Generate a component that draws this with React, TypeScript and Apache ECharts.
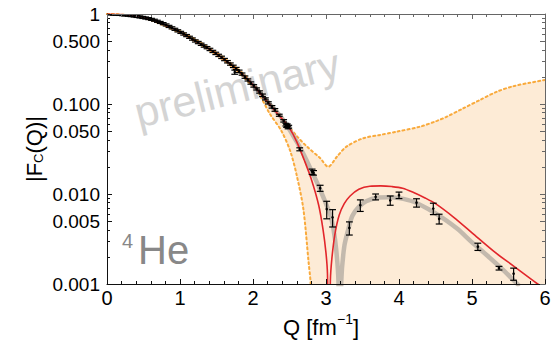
import React, { useEffect, useRef } from 'react';
import * as echarts from 'echarts';

const FONT = '"Liberation Sans", Arial, Helvetica, sans-serif';

// Axis ticks
const yMajorValues = [0.001, 0.005, 0.01, 0.05, 0.1, 0.5, 1];
const yMajorLabels = ['0.001', '0.005', '0.010', '0.050', '0.100', '0.500', '1'];
const yMinorValues = [
  0.002, 0.003, 0.004, 0.006, 0.007, 0.008, 0.009,
  0.02, 0.03, 0.04, 0.06, 0.07, 0.08, 0.09,
  0.2, 0.3, 0.4, 0.6, 0.7, 0.8, 0.9,
];

// Theory (red)
const redQ = [0, 0.2, 0.4, 0.6, 0.8, 1.0, 1.2, 1.4, 1.6, 1.8, 2.0, 2.2, 2.4, 2.5, 2.6, 2.7, 2.8, 2.9, 2.96, 3.0, 3.02, 3.04, 3.06, 3.08, 3.12, 3.18, 3.25, 3.33, 3.45, 3.6, 3.75, 3.9, 4.05, 4.2, 4.35, 4.5, 4.75, 5.0, 5.3, 5.57, 5.9, 6.0];
const redF = [1, 0.985, 0.945, 0.877, 0.752, 0.63, 0.506, 0.408, 0.316, 0.234, 0.163, 0.105, 0.068, 0.054, 0.038, 0.024, 0.0145, 0.0075, 0.004, 0.0022, 0.0013, 0.0001, 0.0011, 0.0019, 0.0035, 0.0058, 0.0078, 0.0095, 0.0113, 0.0122, 0.0123, 0.0121, 0.0116, 0.0104, 0.0091, 0.0078, 0.0055, 0.0037, 0.0023, 0.00158, 0.001, 0.00088];

// Fit (gray band)
const grayQ = [2.0, 2.2, 2.4, 2.6, 2.7, 2.8, 2.9, 3.0, 3.06, 3.1, 3.14, 3.17, 3.19, 3.21, 3.25, 3.3, 3.36, 3.45, 3.55, 3.7, 3.85, 4.0, 4.2, 4.4, 4.6, 4.8, 5.0, 5.2, 5.4, 5.57, 5.65];
const grayF = [0.165, 0.106, 0.069, 0.038, 0.027, 0.0182, 0.0122, 0.0078, 0.0058, 0.0042, 0.0024, 0.0011, 0.0001, 0.0011, 0.0026, 0.0039, 0.0057, 0.0072, 0.0083, 0.0091, 0.0092, 0.009, 0.0082, 0.0068, 0.0054, 0.0041, 0.0029, 0.0021, 0.0015, 0.0011, 0.00095];

// Uncertainty band (orange dotted)
const upperQ = [0, 0.5, 1.0, 1.5, 1.8, 2.0, 2.2, 2.32, 2.46, 2.6, 2.74, 2.92, 3.03, 3.15, 3.28, 3.51, 3.74, 3.97, 4.29, 4.52, 4.65, 4.88, 5.11, 5.34, 5.57, 5.79, 6.0];
const upperF = [1, 0.925, 0.645, 0.372, 0.242, 0.17, 0.11, 0.086, 0.061, 0.044, 0.0336, 0.025, 0.0201, 0.026, 0.0336, 0.0416, 0.0453, 0.0493, 0.056, 0.065, 0.072, 0.0895, 0.111, 0.137, 0.158, 0.172, 0.185];
const lowerQ = [0, 0.5, 1.0, 1.5, 1.8, 2.0, 2.1, 2.23, 2.39, 2.51, 2.6, 2.69, 2.76, 2.79, 2.82];
const lowerF = [1, 0.905, 0.615, 0.35, 0.226, 0.155, 0.122, 0.078, 0.05, 0.03, 0.016, 0.0068, 0.0018, 0.001, 0.0002];

// Measured data: [Q, |F|, error]
const measured = [
  [0.05, 0.999, 0.025], [0.09, 0.997, 0.025], [0.13, 0.993, 0.025], [0.17, 0.989, 0.025],
  [0.21, 0.983, 0.025], [0.25, 0.976, 0.025], [0.29, 0.969, 0.025], [0.33, 0.96, 0.025],
  [0.37, 0.951, 0.025], [0.41, 0.94, 0.025], [0.45, 0.928, 0.024], [0.49, 0.916, 0.024],
  [0.53, 0.903, 0.024], [0.57, 0.889, 0.023], [0.61, 0.872, 0.023], [0.65, 0.853, 0.022],
  [0.69, 0.83, 0.022], [0.73, 0.806, 0.021], [0.77, 0.782, 0.021], [0.81, 0.756, 0.02],
  [0.85, 0.728, 0.02], [0.89, 0.702, 0.019], [0.93, 0.676, 0.018], [0.97, 0.65, 0.018],
  [1.01, 0.625, 0.017], [1.05, 0.6, 0.017], [1.09, 0.576, 0.016], [1.13, 0.551, 0.015],
  [1.17, 0.527, 0.015], [1.21, 0.502, 0.014], [1.25, 0.482, 0.014], [1.29, 0.461, 0.013],
  [1.33, 0.441, 0.013], [1.37, 0.423, 0.012], [1.41, 0.404, 0.012], [1.45, 0.384, 0.011],
  [1.49, 0.365, 0.011], [1.53, 0.347, 0.01], [1.57, 0.33, 0.01], [1.61, 0.312, 0.009],
  [1.65, 0.295, 0.009], [1.69, 0.278, 0.008], [1.73, 0.262, 0.008], [1.75, 0.226, 0.012],
  [1.77, 0.248, 0.007], [1.81, 0.231, 0.007], [1.85, 0.215, 0.006], [1.89, 0.199, 0.006],
  [1.93, 0.185, 0.005], [1.97, 0.171, 0.005], [2.01, 0.159, 0.005], [2.05, 0.147, 0.004],
  [2.09, 0.136, 0.004], [2.13, 0.125, 0.004], [2.17, 0.114, 0.003], [2.21, 0.103, 0.003],
  [2.26, 0.093, 0.003], [2.3, 0.086, 0.003], [2.36, 0.075, 0.002], [2.42, 0.065, 0.002],
  [2.45, 0.059, 0.002], [2.46, 0.057, 0.002], [2.47, 0.058, 0.002], [2.48, 0.055, 0.002],
  [2.49, 0.056, 0.002],
  [2.64, 0.0314, 0.0012], [2.81, 0.0177, 0.0012], [2.83, 0.0172, 0.001], [2.92, 0.0116, 0.0009],
  [3.01, 0.0068, 0.0015], [3.09, 0.0055, 0.0012], [3.32, 0.0042, 0.0007], [3.47, 0.0075, 0.0011],
  [3.68, 0.0093, 0.0007], [3.88, 0.0085, 0.001], [4.0, 0.0097, 0.0008], [4.24, 0.008, 0.00085],
  [4.47, 0.0069, 0.001], [4.55, 0.0053, 0.00066], [5.08, 0.0026, 0.00024], [5.37, 0.0015, 0.00007],
  [5.57, 0.0013, 0.0002],
];

const zip = (a: number[], b: number[]) => a.map((v, i) => [v, b[i]]);

const GRID = { left: 107, top: 14, width: 438, height: 270 };

export default function App() {
  const ref = useRef<HTMLDivElement>(null);
  useEffect(() => {
    if (!ref.current) return;
    const chart = echarts.init(ref.current, null, { renderer: 'svg' });

    const labelFor = (v: number) => {
      const i = yMajorValues.findIndex((m) => Math.abs(m / v - 1) < 1e-6);
      return i >= 0 ? yMajorLabels[i] : '';
    };

    const xBase = (pos: 'bottom' | 'top', color: string, labels: boolean) => ({
      type: 'value',
      position: pos,
      min: 0,
      max: 6,
      interval: 1,
      z: 10,
      axisLine: { show: true, onZero: false, lineStyle: { color, width: 1 } },
      axisTick: { show: true, inside: true, length: 5, lineStyle: { color, width: 1 } },
      minorTick: { show: true, splitNumber: 5, length: 3, lineStyle: { color, width: 1 } },
      splitLine: { show: false },
      minorSplitLine: { show: false },
      axisLabel: labels
        ? { show: true, margin: 4, color: '#000', fontSize: 20, fontFamily: FONT }
        : { show: false },
    });

    const yBase = (pos: 'left' | 'right', color: string, values: number[], len: number, labels: boolean, line: boolean) => ({
      type: 'log',
      position: pos,
      min: 0.001,
      max: 1,
      logBase: 10,
      z: 10,
      axisLine: { show: line, onZero: false, lineStyle: { color, width: 1 } },
      axisTick: { show: true, inside: true, length: len, customValues: values, lineStyle: { color, width: 1 } },
      minorTick: { show: false },
      splitLine: { show: false },
      axisLabel: labels
        ? {
            show: true,
            customValues: yMajorValues,
            margin: 7,
            color: '#000',
            fontSize: 19,
            fontFamily: FONT,
            formatter: (v: number) => labelFor(v),
          }
        : { show: false },
    });

    const option: any = {
      animation: false,
      backgroundColor: '#fff',
      grid: { ...GRID, containLabel: false },
      xAxis: [xBase('bottom', '#111', true), xBase('top', '#666', false)],
      yAxis: [
        yBase('left', '#111', yMajorValues, 5, true, true),
        yBase('left', '#111', yMinorValues, 3, false, false),
        yBase('right', '#666', yMajorValues, 5, false, true),
        yBase('right', '#666', yMinorValues, 3, false, false),
      ],
      graphic: [
        {
          type: 'text',
          x: 237,
          y: 88,
          rotation: (14 * Math.PI) / 180,
          z: 2,
          silent: true,
          style: { text: 'preliminary', fontSize: 43, fontFamily: FONT, fill: '#d4d4d4', align: 'center', verticalAlign: 'middle' },
        },
        {
          type: 'text',
          x: 122,
          y: 241,
          z: 20,
          style: { text: '4', fontSize: 20, fontFamily: FONT, fill: '#888', align: 'left', verticalAlign: 'middle' },
        },
        {
          type: 'text',
          x: 138,
          y: 250,
          z: 20,
          style: { text: 'He', fontSize: 40, fontFamily: FONT, fill: '#888', align: 'left', verticalAlign: 'middle' },
        },
        {
          type: 'group',
          x: 34,
          y: 148.5,
          rotation: Math.PI / 2,
          children: [
            { type: 'text', x: -33.5, y: 0, style: { text: '|F', fontSize: 22, fontFamily: FONT, fill: '#000', align: 'left', verticalAlign: 'middle' } },
            { type: 'text', x: -14.4, y: 4.5, style: { text: 'C', fontSize: 13, fontFamily: FONT, fill: '#000', align: 'left', verticalAlign: 'middle' } },
            { type: 'text', x: -5, y: 0, style: { text: '(Q)|', fontSize: 22, fontFamily: FONT, fill: '#000', align: 'left', verticalAlign: 'middle' } },
          ],
        },
        {
          type: 'group',
          x: 283,
          y: 327,
          children: [
            { type: 'text', x: 0, y: 0, style: { text: 'Q [fm', fontSize: 22, fontFamily: FONT, fill: '#000', align: 'left', verticalAlign: 'middle' } },
            { type: 'text', x: 54, y: -8, style: { text: '\u22121', fontSize: 14, fontFamily: FONT, fill: '#000', align: 'left', verticalAlign: 'middle' } },
            { type: 'text', x: 70, y: 0, style: { text: ']', fontSize: 22, fontFamily: FONT, fill: '#000', align: 'left', verticalAlign: 'middle' } },
          ],
        },
      ],
      series: [
        {
          name: 'upper',
          type: 'line',
          xAxisIndex: 0,
          yAxisIndex: 0,
          z: 1,
          data: zip(upperQ, upperF),
          smooth: 0.3,
          showSymbol: false,
          clip: true,
          lineStyle: { color: '#f9aa3c', width: 2, type: [2, 3], cap: 'round' },
          areaStyle: { color: '#fdebd6', opacity: 1, origin: 'start' },
        },
        {
          name: 'lower',
          type: 'line',
          xAxisIndex: 0,
          yAxisIndex: 0,
          z: 1.5,
          data: zip(lowerQ, lowerF),
          smooth: 0.3,
          showSymbol: false,
          clip: true,
          lineStyle: { color: '#f9aa3c', width: 2, type: [2, 3], cap: 'round' },
          areaStyle: { color: '#ffffff', opacity: 1, origin: 'start' },
        },
        {
          name: 'fit',
          type: 'line',
          xAxisIndex: 0,
          yAxisIndex: 0,
          z: 3,
          data: zip(grayQ, grayF),
          smooth: 0.3,
          showSymbol: false,
          clip: true,
          lineStyle: { color: '#bdb4a8', width: 4.5, opacity: 0.9 },
        },
        {
          name: 'theory',
          type: 'line',
          xAxisIndex: 0,
          yAxisIndex: 0,
          z: 4,
          data: zip(redQ, redF),
          smooth: 0.3,
          showSymbol: false,
          clip: true,
          lineStyle: { color: '#e2262b', width: 1.6 },
        },
        {
          name: 'data',
          type: 'custom',
          xAxisIndex: 0,
          yAxisIndex: 0,
          z: 5,
          clip: true,
          data: measured,
          encode: { x: 0, y: 1 },
          renderItem: (params: any, api: any) => {
            const q = api.value(0);
            const f = api.value(1);
            const e = api.value(2);
            const c = api.coord([q, f]);
            const t = api.coord([q, f + e]);
            const b = api.coord([q, f - e]);
            const hw = 3.4;
            const st = { stroke: '#000', lineWidth: 1.2 };
            return {
              type: 'group',
              children: [
                { type: 'line', shape: { x1: c[0], y1: t[1], x2: c[0], y2: b[1] }, style: st },
                { type: 'line', shape: { x1: c[0] - hw, y1: t[1], x2: c[0] + hw, y2: t[1] }, style: st },
                { type: 'line', shape: { x1: c[0] - hw, y1: b[1], x2: c[0] + hw, y2: b[1] }, style: st },
                { type: 'circle', shape: { cx: c[0], cy: c[1], r: 1.3 }, style: { fill: '#000' } },
              ],
            };
          },
        },
      ],
    };

    chart.setOption(option);
    return () => chart.dispose();
  }, []);

  return <div ref={ref} style={{ position: 'absolute', left: 0, top: 0, width: 560, height: 344 }} />;
}
